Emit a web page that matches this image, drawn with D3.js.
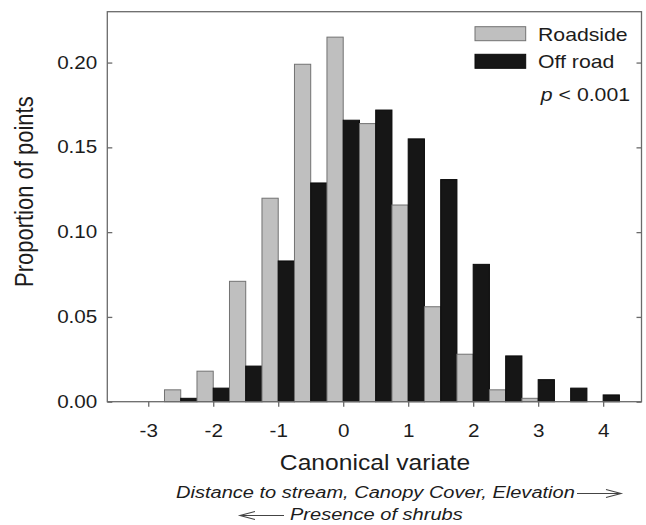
<!DOCTYPE html>
<html>
<head>
<meta charset="utf-8">
<script src="https://cdn.jsdelivr.net/npm/d3@7"></script>
<style>
  html, body { margin: 0; padding: 0; background: #fff; }
  svg { display: block; }
  text { font-family: "Liberation Sans", Arial, Helvetica, sans-serif; fill: #1c1c1c; }
</style>
</head>
<body>
<svg id="chart" width="646" height="525"></svg>
<script>
// ---- data ----
const binCenters = [-2.5, -2, -1.5, -1, -0.5, 0, 0.5, 1, 1.5, 2, 2.5, 3, 3.5, 4];
const roadside   = [0.007, 0.018, 0.071, 0.120, 0.199, 0.215, 0.164, 0.116, 0.056, 0.028, 0.007, 0.002, 0, 0];
const offRoad    = [0.002, 0.008, 0.021, 0.083, 0.129, 0.166, 0.172, 0.155, 0.131, 0.081, 0.027, 0.013, 0.008, 0.004];
const seriesNames = ["Roadside", "Off road"];
const xTicks = [-3, -2, -1, 0, 1, 2, 3, 4];
const yTicks = [0, 0.05, 0.10, 0.15, 0.20];
const xTitle = "Canonical variate";
const yTitle = "Proportion of points";
const note1 = "Distance to stream, Canopy Cover, Elevation";
const note2 = "Presence of shrubs";

(function () {
// ---- layout ----
const S = 1.18; // horizontal stretch of text in the reference
const svg = d3.select("#chart");
const pL = 107.3, pR = 641.5, pT = 11.7, pB = 401.7;
const x = d3.scaleLinear().domain([-3.63, 4.59]).range([pL, pR]);
const y = d3.scaleLinear().domain([0, 0.23]).range([pB, pT]);
const halfBin = 0.25;

const gray = "#bfbfbf", grayStroke = "#727272";
const black = "#161616", blackStroke = "#0a0a0a";

// bars
const g = svg.append("g");
binCenters.forEach((c, i) => {
  if (roadside[i] > 0) {
    g.append("rect")
      .attr("x", x(c - halfBin)).attr("width", x(c) - x(c - halfBin))
      .attr("y", y(roadside[i])).attr("height", y(0) - y(roadside[i]))
      .attr("fill", gray).attr("stroke", grayStroke).attr("stroke-width", 1);
  }
  if (offRoad[i] > 0) {
    g.append("rect")
      .attr("x", x(c)).attr("width", x(c + halfBin) - x(c))
      .attr("y", y(offRoad[i])).attr("height", y(0) - y(offRoad[i]))
      .attr("fill", black).attr("stroke", blackStroke).attr("stroke-width", 1);
  }
});

// frame
svg.append("rect")
  .attr("x", pL).attr("y", pT)
  .attr("width", pR - pL).attr("height", pB - pT)
  .attr("fill", "none").attr("stroke", "#6a6a6a").attr("stroke-width", 1.3);

function stretchTicks(sel) {
  sel.selectAll(".tick text").each(function () {
    const t = d3.select(this);
    const tx = +t.attr("x") || 0;
    const ty = +t.attr("y") || 0;
    t.attr("x", 0).attr("y", 0)
     .attr("transform", `translate(${tx},${ty}) scale(${S},1)`);
  });
}

// axes
const xAxis = svg.append("g").attr("transform", `translate(0,${pB})`)
  .call(d3.axisBottom(x).tickValues(xTicks).tickFormat(d => String(d))
        .tickSize(5).tickPadding(18));
const yAxis = svg.append("g").attr("transform", `translate(${pL},0)`)
  .call(d3.axisLeft(y).tickValues(yTicks).tickFormat(d3.format(".2f"))
        .tickSize(-5).tickPadding(10));
const yAxisR = svg.append("g").attr("transform", `translate(${pR},0)`)
  .call(d3.axisRight(y).tickValues(yTicks).tickFormat("").tickSize(-5));

[xAxis, yAxis, yAxisR].forEach(a => {
  a.select(".domain").remove();
  a.selectAll(".tick line").attr("stroke", "#6a6a6a").attr("stroke-width", 1.3);
  a.selectAll(".tick text").attr("font-size", 17.5).attr("fill", "#1c1c1c")
    .attr("font-family", "Liberation Sans, Arial, sans-serif");
});
stretchTicks(xAxis);
stretchTicks(yAxis);

// axis titles
svg.append("text")
  .attr("transform", `translate(375,470) scale(1.12,1)`)
  .attr("text-anchor", "middle").attr("font-size", 22)
  .text(xTitle);

svg.append("text")
  .attr("transform", `translate(33,191.7) scale(${S},1) rotate(-90)`)
  .attr("text-anchor", "middle").attr("font-size", 22)
  .text(yTitle);

// legend
const legend = svg.append("g");
const legY = [26.7, 54.3];
const legFill = [gray, black], legStroke = [grayStroke, blackStroke];
seriesNames.forEach((name, i) => {
  legend.append("rect").attr("x", 475).attr("y", legY[i])
    .attr("width", 50.7).attr("height", 14)
    .attr("fill", legFill[i]).attr("stroke", legStroke[i]).attr("stroke-width", 1);
  legend.append("text")
    .attr("transform", `translate(538,${legY[i] + 14}) scale(${S},1)`)
    .attr("font-size", 18).text(name);
});
const pt = svg.append("text")
  .attr("transform", `translate(630,101) scale(${S},1)`)
  .attr("text-anchor", "end").attr("font-size", 18);
pt.append("tspan").attr("font-style", "italic").text("p");
pt.append("tspan").text(" < 0.001");

// direction notes
svg.append("text")
  .attr("transform", `translate(176,498) scale(${S},1)`)
  .attr("font-size", 17).attr("font-style", "italic").attr("fill", "#2a2a2a")
  .text(note1);
svg.append("text")
  .attr("transform", `translate(290,520) scale(${S},1)`)
  .attr("font-size", 17).attr("font-style", "italic").attr("fill", "#2a2a2a")
  .text(note2);

// arrows
svg.append("path")
  .attr("d", "M577,493.5 L621,493.5 M606,489.5 L621,493.5 L606,497.5")
  .attr("fill", "none").attr("stroke", "#444").attr("stroke-width", 1.1);
svg.append("path")
  .attr("d", "M284,515.5 L240,515.5 M255,511.5 L240,515.5 L255,519.5")
  .attr("fill", "none").attr("stroke", "#444").attr("stroke-width", 1.1);
})();
</script>
</body>
</html>
